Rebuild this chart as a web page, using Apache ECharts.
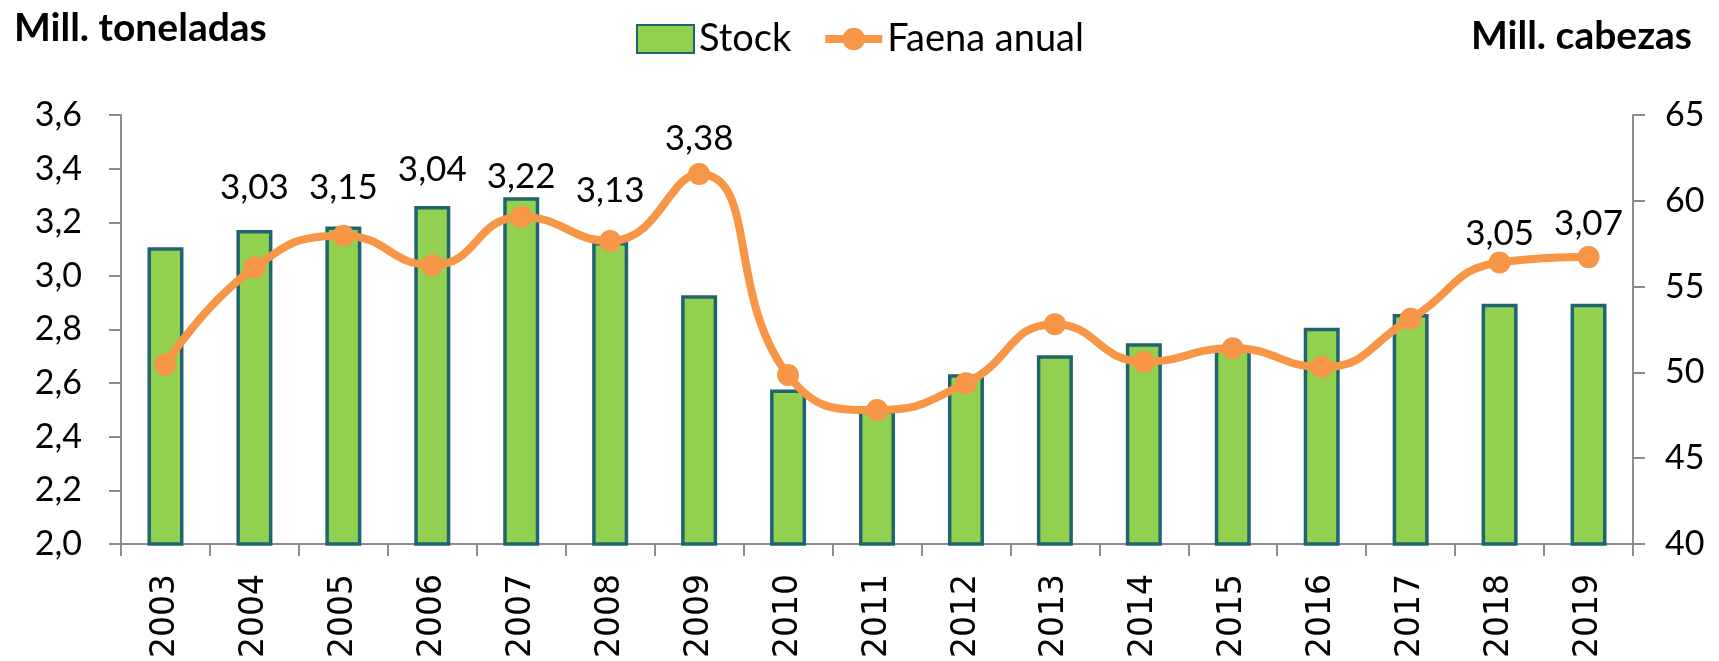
<!DOCTYPE html>
<html>
<head>
<meta charset="utf-8">
<script src="https://cdn.jsdelivr.net/npm/echarts@6/dist/echarts.min.js"></script>
<style>
html,body{margin:0;padding:0;background:#fff;}
#chart{width:1719px;height:661px;}
</style>
</head>
<body>
<div id="chart"></div>
<script>
// ---- data ----
const years = ['2003','2004','2005','2006','2007','2008','2009','2010','2011','2012','2013','2014','2015','2016','2017','2018','2019'];
const stock = [57.3, 58.3, 58.5, 59.7, 60.2, 57.6, 54.5, 49.0, 47.8, 49.9, 51.0, 51.7, 51.4, 52.6, 53.4, 54.0, 54.0];
const faena = [2.67, 3.03, 3.15, 3.04, 3.22, 3.13, 3.38, 2.63, 2.50, 2.60, 2.82, 2.68, 2.73, 2.66, 2.84, 3.05, 3.07];
const labeledYears = ['2004','2005','2006','2007','2008','2009','2018','2019'];
const leftTicks = [2.0, 3.6, 0.2];   // min, max, interval
const rightTicks = [40, 65, 5];

// ---- style (label lift above each labelled point, px) ----
const labelLift = {'2004':52,'2005':19,'2006':67,'2007':12,'2008':22,'2009':7,'2018':0,'2019':5};

const fmt = v => v.toFixed(2).replace('.', ',');
const lineData = faena.map((v, i) => {
  const y = years[i];
  if (labeledYears.indexOf(y) >= 0) {
    return {value: v, label: {show: true, distance: labelLift[y]}};
  }
  return {value: v};
});

const FONT = 'Lato, "Open Sans", sans-serif';
const chart = echarts.init(document.getElementById('chart'), null, {renderer: 'canvas'});
chart.setOption({
  animation: false,
  backgroundColor: '#ffffff',
  title: [
    {text: 'Mill. toneladas', left: 9, top: 4,
     textStyle: {fontFamily: FONT, fontWeight: 'bold', fontSize: 39, color: '#000'}},
    {text: 'Mill. cabezas', right: 22, top: 12,
     textStyle: {fontFamily: FONT, fontWeight: 'bold', fontSize: 39, color: '#000'}}
  ],
  legend: {
    left: 631, top: 15,
    itemWidth: 57, itemHeight: 28, itemGap: 30,
    textStyle: {fontFamily: FONT, fontSize: 38, color: '#000', lineHeight: 30},
    lineStyle: {width: 8},
    data: [{name: 'Stock', icon: 'rect'}, {name: 'Faena anual'}]
  },
  grid: {left: 121, right: 86, top: 115, bottom: 113, containLabel: false},
  xAxis: {
    type: 'category', data: years, boundaryGap: true,
    axisLine: {lineStyle: {color: '#8c8c8c', width: 2}},
    axisTick: {show: true, length: 12, lineStyle: {color: '#8c8c8c', width: 2}},
    axisLabel: {rotate: 90, margin: 30, fontFamily: '"DejaVu Sans", Verdana, sans-serif', fontSize: 33, color: '#000'}
  },
  yAxis: [
    {type: 'value', min: leftTicks[0], max: leftTicks[1], interval: leftTicks[2], position: 'left',
     splitLine: {show: false},
     axisLine: {show: true, lineStyle: {color: '#8c8c8c', width: 2}},
     axisTick: {show: true, length: 12, lineStyle: {color: '#8c8c8c', width: 2}},
     axisLabel: {margin: 39, fontFamily: FONT, fontSize: 34, color: '#000',
                 formatter: v => v.toFixed(1).replace('.', ',')}},
    {type: 'value', min: rightTicks[0], max: rightTicks[1], interval: rightTicks[2], position: 'right',
     splitLine: {show: false},
     axisLine: {show: true, lineStyle: {color: '#8c8c8c', width: 2}},
     axisTick: {show: true, length: 12, lineStyle: {color: '#8c8c8c', width: 2}},
     axisLabel: {margin: 32, fontFamily: FONT, fontSize: 34, color: '#000'}}
  ],
  series: [
    {name: 'Stock', type: 'bar', yAxisIndex: 1, data: stock, barWidth: 36, z: 2,
     itemStyle: {color: '#92D050', borderColor: '#1F6470', borderWidth: 3.5}},
    {name: 'Faena anual', type: 'line', yAxisIndex: 0, data: lineData, smooth: 0.5, z: 3,
     symbol: 'circle', symbolSize: 22,
     lineStyle: {color: '#F79646', width: 8},
     itemStyle: {color: '#F79646'},
     label: {show: false, position: 'top', fontFamily: FONT, fontSize: 35, color: '#000',
             formatter: p => fmt(p.value)}}
  ]
});
</script>
</body>
</html>
